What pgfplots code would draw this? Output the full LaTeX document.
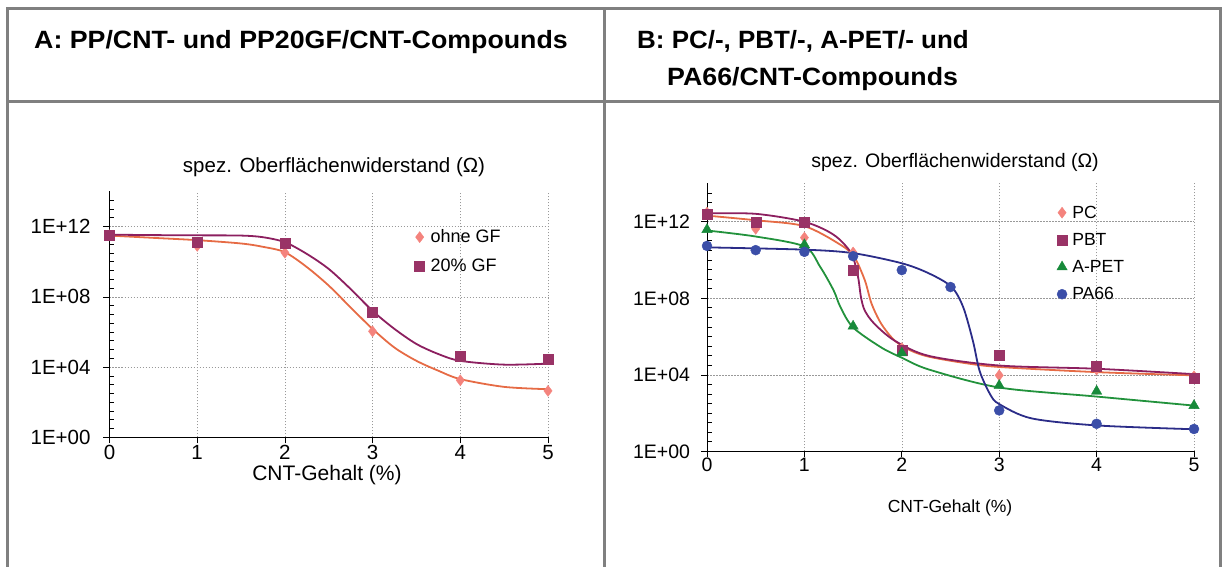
\documentclass[border=0pt]{standalone}
\usepackage{graphicx}
\usepackage{pgfplots}
\pgfplotsset{compat=1.18}
\usepackage{fontspec}
\setmainfont{Liberation Sans}
\newfontfamily\headfont{Liberation Sans}[FakeStretch=1.07]
\newcommand\fAt{\fontsize{20.5}{23}\selectfont}
\newcommand\fAl{\fontsize{18}{20}\selectfont}
\newcommand\fAx{\fontsize{21}{24}\selectfont}
\newcommand\fBt{\fontsize{19.5}{22}\selectfont}
\newcommand\fBl{\fontsize{17.6}{20}\selectfont}
\newcommand\fBx{\fontsize{17.5}{20}\selectfont}
\definecolor{frame}{HTML}{808080}
\definecolor{salmon}{HTML}{F4837D}
\definecolor{coral}{HTML}{E66B45}
\definecolor{plum}{HTML}{993366}
\definecolor{plumline}{HTML}{8C1F5F}
\definecolor{pgreen}{HTML}{178A3A}
\definecolor{pgreenline}{HTML}{22923C}
\definecolor{pblue}{HTML}{3B4EA8}
\definecolor{navy}{HTML}{2B2C88}
\begin{document}
\begin{tikzpicture}
\useasboundingbox (0,0) rectangle (1224pt,567pt);
% frame
\draw[frame, line width=3pt] (7.5pt,0) -- (7.5pt,558.5pt) -- (1220.5pt,558.5pt) -- (1220.5pt,0);
\draw[frame, line width=3pt] (6pt,465.5pt) -- (1222pt,465.5pt);
\draw[frame, line width=3pt] (604pt,0) -- (604pt,558.5pt);
\node[anchor=base west, inner sep=0pt, font=\headfont\bfseries\fontsize{25}{30}\selectfont] at (34pt,518pt) {A: PP/CNT- und PP20GF/CNT-Compounds};
\node[anchor=base west, inner sep=0pt, font=\headfont\bfseries\fontsize{25}{30}\selectfont] at (637pt,518pt) {\scalebox{0.97}[1]{B: PC/-, PBT/-, A-PET/- und}};
\node[anchor=base west, inner sep=0pt, font=\headfont\bfseries\fontsize{25}{30}\selectfont] at (667pt,481pt) {PA66/CNT-Compounds};

% ---------------- left chart: minor ticks (inside)
\begin{axis}[at={(109.5pt,129.5pt)}, anchor=south west, width=438.5pt, height=246pt,
   scale only axis, ymode=log, xmin=0, xmax=5, ymin=1, ymax=1e14,
   axis y line*=left, axis x line=none, axis line style={black, line width=0.9pt},
   ytick={3.16,10,31.6,100,316,1000,3160,3.16e4,1e5,3.16e5,1e6,3.16e6,1e7,3.16e7,3.16e8,1e9,3.16e9,1e10,3.16e10,1e11,3.16e11,3.16e12,1e13,3.16e13},
   yticklabels={}, tick align=inside, major tick length=4.5pt, tick style={black, line width=0.9pt}]
\end{axis}
% ---------------- left chart
\begin{axis}[at={(109.5pt,129.5pt)}, anchor=south west, width=438.5pt, height=246pt,
   scale only axis, ymode=log, xmin=0, xmax=5, ymin=1, ymax=1e14,
   axis lines*=left, axis line style={black, line width=0.9pt},
   xtick={0,1,2,3,4,5}, ytick={1,1e4,1e8,1e12},
   xticklabels={0,1,2,3,4,5}, yticklabels={1E+00,1E+04,1E+08,1E+12},
   grid=major, major grid style={black!40, line width=0.6pt, dash pattern=on 1.5pt off 1.5pt},
   tick style={black, line width=0.8pt},
   tick align=outside, major tick length=6pt,
   clip=false,
   legend cell align=left,
  tick label style={font=\fAt},
  yticklabel style={xshift=-9.5pt},
  xticklabel style={yshift=2pt},
  legend style={draw=none, fill=none, at={(0.6955,0.853)}, anchor=north west, font=\fAl, row sep=11pt, column sep=4pt, inner sep=0pt},
  ]
\addplot[smooth, tension=0.5, line width=1.8pt, no marks, coral, forget plot] coordinates {(0,3.1e11) (0.5,2.3e11) (1,1.7e11) (1.5,1.1e11) (1.75,7.1e10) (2,3.5e10) (2.25,5e9) (2.5,4.4e8) (2.75,2.5e7) (3,1.5e6) (3.25,1.3e5) (3.5,2.3e4) (3.75,6.3e3) (4,2.1e3) (4.5,7.6e2) (5,5.6e2)};
\addplot[smooth, tension=0.5, line width=1.8pt, no marks, plumline, forget plot] coordinates {(0,3.5e11) (0.5,3.3e11) (1,3.2e11) (1.5,3.1e11) (1.75,2.5e11) (2,1.3e11) (2.25,2.8e10) (2.5,3.9e9) (2.75,2.8e8) (3,1.6e7) (3.25,1.5e6) (3.5,2.1e5) (3.75,5.6e4) (4,2.3e4) (4.5,1.4e4) (5,1.6e4)};
\addplot[only marks, mark=diamond*, mark size=5.5pt, color=salmon] coordinates {(0,3.2e11) (1,8e10) (2,3.3e10) (3,1.1e6) (4,1.8e3) (5,4.5e2)};
\addlegendentry{ohne GF}
\addplot[only marks, mark=square*, mark size=5pt, color=plum] coordinates {(0,3.2e11) (1,1.3e11) (2,1.2e11) (3,1.3e7) (4,4.2e4) (5,2.8e4)};
\addlegendentry{20\% GF}
\end{axis}
\node[font=\fAt] at (334pt,400pt) {spez. Oberflächenwiderstand (Ω)};
\node[font=\fAx] at (327pt,92pt) {CNT-Gehalt (\%)};

% ---------------- right chart: minor ticks (inside)
\begin{axis}[at={(707pt,115.5pt)}, anchor=south west, width=487pt, height=268pt,
   scale only axis, ymode=log, xmin=0, xmax=5, ymin=1, ymax=1e14,
   axis y line*=left, axis x line=none, axis line style={black, line width=0.9pt},
   ytick={3.16,10,31.6,100,316,1000,3160,3.16e4,1e5,3.16e5,1e6,3.16e6,1e7,3.16e7,3.16e8,1e9,3.16e9,1e10,3.16e10,1e11,3.16e11,3.16e12,1e13,3.16e13},
   yticklabels={}, tick align=inside, major tick length=4.5pt, tick style={black, line width=0.9pt}]
\end{axis}
% ---------------- right chart
\begin{axis}[at={(707pt,115.5pt)}, anchor=south west, width=487pt, height=268pt,
   scale only axis, ymode=log, xmin=0, xmax=5, ymin=1, ymax=1e14,
   axis lines*=left, axis line style={black, line width=0.9pt},
   xtick={0,1,2,3,4,5}, ytick={1,1e4,1e8,1e12},
   xticklabels={0,1,2,3,4,5}, yticklabels={1E+00,1E+04,1E+08,1E+12},
   grid=major, major grid style={black!40, line width=0.6pt, dash pattern=on 1.5pt off 1.5pt},
   tick style={black, line width=0.8pt},
   tick align=outside, major tick length=6pt,
   clip=false,
   legend cell align=left,
  tick label style={font=\fBt},
  yticklabel style={xshift=-7.5pt},
  xticklabel style={yshift=3pt},
  legend style={draw=none, fill=none, at={(0.718,0.925)}, anchor=north west, font=\fBl, row sep=9.5pt, column sep=3pt, inner sep=0pt},
  ]
\addplot[smooth, tension=0.5, line width=1.8pt, no marks, coral, forget plot] coordinates {(0,2.1e12) (0.5,1.2e12) (1,5.9e11) (1.37,6.3e10) (1.51,1.5e10) (1.62,8.9e8) (1.69,5.2e7) (1.79,4.6e6) (1.93,6e5) (2.1,1.8e5) (2.28,8.9e4) (2.63,4.3e4) (3,2.6e4) (4,1.4e4) (5,9.5e3)};
\addplot[smooth, tension=0.5, line width=1.8pt, no marks, plumline, forget plot] coordinates {(0,2.75e12) (0.5,2.6e12) (1,1e12) (1.3,2.1e11) (1.48,2.3e10) (1.55,1.35e9) (1.58,1.2e8) (1.62,2.3e7) (1.72,4.6e6) (1.93,6e5) (2.28,9.8e4) (3,3.1e4) (4,2.1e4) (5,1.1e4)};
\addplot[smooth, tension=0.5, line width=1.8pt, no marks, pgreenline, forget plot] coordinates {(0,3.5e11) (0.5,1.7e11) (1,5.1e10) (1.16,4.6e9) (1.3,2.6e8) (1.37,3.5e7) (1.5,3e6) (1.79,2.7e5) (2,7.9e4) (2.28,1.9e4) (3,2.2e3) (4,7.4e2) (5,2.5e2)};
\addplot[smooth, tension=0.5, line width=1.8pt, no marks, navy, forget plot] coordinates {(0,4.6e10) (1,3.5e10) (1.5,2.3e10) (2,6.8e9) (2.28,2e9) (2.51,4e8) (2.63,3.5e7) (2.73,6e5) (2.8,1.55e4) (2.91,9.1e2) (3,3e2) (3.33,54) (4,23) (5,14.5)};
\addplot[only marks, mark=diamond*, mark size=5.5pt, color=salmon] coordinates {(0,3e12) (0.5,4.3e11) (1,1.5e11) (1.5,2.5e10) (2,2.5e5) (3,9.5e3) (4,1.9e4) (5,8.5e3)};
\addlegendentry{PC}
\addplot[only marks, mark=square*, mark size=5pt, color=plum] coordinates {(0,2.5e12) (0.5,1e12) (1,9e11) (1.5,3e9) (2,2e5) (3,1.1e5) (4,3e4) (5,7e3)};
\addlegendentry{PBT}
\addplot[only marks, mark=triangle*, mark size=6pt, color=pgreen] coordinates {(0,3.9e11) (1,6.3e10) (1.5,3.5e6) (2,1.4e5) (3,2.8e3) (4,1.4e3) (5,2.5e2)};
\addlegendentry{A-PET}
\addplot[only marks, mark=*, mark size=5pt, color=pblue] coordinates {(0,5.5e10) (0.5,3.3e10) (1,2.7e10) (1.5,1.6e10) (2,3e9) (2.5,3.9e8) (3,1.4e2) (4,28) (5,15)};
\addlegendentry{PA66}
\end{axis}
\node[font=\fBt] at (955pt,405pt) {spez. Oberflächenwiderstand (Ω)};
\node[font=\fBx] at (950pt,59pt) {CNT-Gehalt (\%)};
\end{tikzpicture}
\end{document}
